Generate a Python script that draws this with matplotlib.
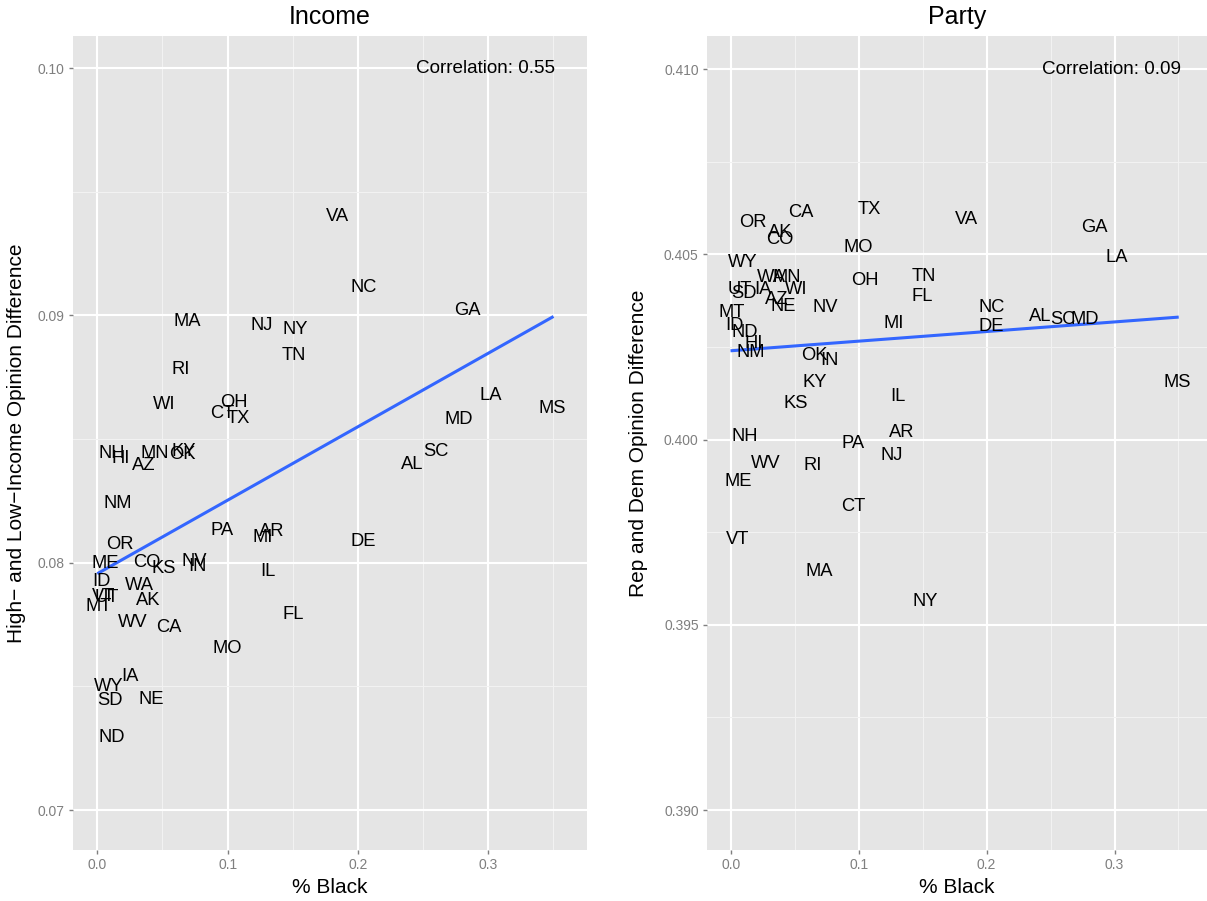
import numpy as np
import matplotlib
matplotlib.use('Agg')
import matplotlib.pyplot as plt

# state data
states = ['AL','AK','AZ','AR','CA','CO','CT','DE','FL','GA','HI','ID','IL','IN','IA','KS','KY','LA','ME','MD',
          'MA','MI','MN','MS','MO','MT','NE','NV','NH','NJ','NM','NY','NC','ND','OH','OK','OR','PA','RI','SC',
          'SD','TN','TX','UT','VT','VA','WA','WV','WI','WY']
pct_black = [0.242,0.039,0.036,0.134,0.055,0.038,0.096,0.204,0.150,0.284,0.018,0.003,0.131,0.077,0.025,0.051,0.066,0.302,0.006,0.277,
             0.069,0.127,0.044,0.349,0.100,0.001,0.041,0.074,0.011,0.126,0.016,0.152,0.204,0.011,0.105,0.065,0.017,0.096,0.064,0.260,
             0.010,0.151,0.108,0.007,0.005,0.184,0.032,0.027,0.051,0.009]
income_diff = [0.08399,0.07849,0.08391,0.08128,0.07736,0.07999,0.08605,0.08084,0.07792,0.09018,0.08423,0.07922,0.07966,0.07986,0.07538,0.07978,0.08451,0.08678,0.07995,0.08577,
               0.08977,0.08100,0.08443,0.08625,0.07655,0.07821,0.07445,0.08003,0.08443,0.08961,0.08241,0.08941,0.09111,0.07295,0.08646,0.08439,0.08075,0.08132,0.08783,0.08451,
               0.07441,0.08836,0.08581,0.07861,0.07865,0.09398,0.07906,0.07760,0.08641,0.07501]
party_diff = [0.40331,0.40560,0.40377,0.40018,0.40614,0.40541,0.39818,0.40304,0.40387,0.40571,0.40258,0.40309,0.40115,0.40212,0.40404,0.40096,0.40153,0.40490,0.39888,0.40323,
              0.39643,0.40312,0.40436,0.40155,0.40517,0.40342,0.40358,0.40355,0.40007,0.39958,0.40234,0.39562,0.40355,0.40288,0.40428,0.40228,0.40587,0.39988,0.39929,0.40323,
              0.40393,0.40439,0.40622,0.40406,0.39729,0.40595,0.40436,0.39934,0.40404,0.40477]

titles = ['Income', 'Party']
ylabels = ['High\u2212 and Low\u2212Income Opinion Difference', 'Rep and Dem Opinion Difference']
corr_text = ['Correlation: 0.55', 'Correlation: 0.09']
xticks = [0.0, 0.1, 0.2, 0.3]
yticks = [[0.07, 0.08, 0.09, 0.10], [0.390, 0.395, 0.400, 0.405, 0.410]]
ytick_fmt = ['%.2f', '%.3f']

plt.rcParams['font.family'] = ['Liberation Sans', 'DejaVu Sans']

fig = plt.figure(figsize=(12.07, 9.01), dpi=100)
ax1 = fig.add_axes([0.0605, 0.0566, 0.4259, 0.9034])
ax2 = fig.add_axes([0.5858, 0.0566, 0.4143, 0.9034])
axes = [ax1, ax2]
ydata = [income_diff, party_diff]
xlims = [(-0.01865, 0.3758), (-0.01853, 0.3724)]
ylims = [(0.068383, 0.101294), (0.388921, 0.410890)]
ylab_x = [-0.109, -0.138]

x = np.array(pct_black)
for i, ax in enumerate(axes):
    y = np.array(ydata[i])
    ax.set_facecolor('#E5E5E5')
    for s in ax.spines.values():
        s.set_visible(False)
    ax.set_xticks(xticks)
    ax.set_xticklabels(['%.1f' % t for t in xticks])
    ax.set_yticks(yticks[i])
    ax.set_yticklabels([ytick_fmt[i] % t for t in yticks[i]])
    # minor grid halfway between majors
    step = yticks[i][1] - yticks[i][0]
    ax.set_xticks(np.arange(-0.05, 0.40, 0.1), minor=True)
    ax.set_yticks(np.arange(yticks[i][0] - step / 2, yticks[i][-1] + step, step), minor=True)
    ax.set_xlim(*xlims[i])
    ax.set_ylim(*ylims[i])
    ax.grid(which='major', color='white', lw=1.5)
    ax.grid(which='minor', color='#F2F2F2', lw=0.8)
    ax.set_axisbelow(True)
    ax.tick_params(which='major', length=3, width=1, color='#7F7F7F', labelcolor='#7F7F7F',
                   labelsize=10, pad=3)
    ax.tick_params(which='minor', length=0)

    for st, xx, yy in zip(states, x, y):
        ax.text(xx, yy, st, ha='center', va='center', fontsize=13.2, color='black')

    # linear fit, drawn over the data range
    b, a = np.polyfit(x, y, 1)
    xs = np.array([x.min(), x.max()])
    ax.plot(xs, a + b * xs, color='#3366FF', lw=2.2)

    ax.text(0.2975, yticks[i][-1], corr_text[i], ha='center', va='center', fontsize=13.6)

    ax.set_title(titles[i], fontsize=18, y=1 + 19 / 814, va='center', pad=0)
    ax.set_xlabel('% Black', fontsize=15)
    ax.xaxis.set_label_coords(0.5, -0.0455)
    ax.xaxis.label.set_va('center')
    ax.set_ylabel(ylabels[i], fontsize=15)
    ax.yaxis.set_label_coords(ylab_x[i], 0.5)
    ax.yaxis.label.set_va('center')

fig.savefig('out.png', dpi=100)
